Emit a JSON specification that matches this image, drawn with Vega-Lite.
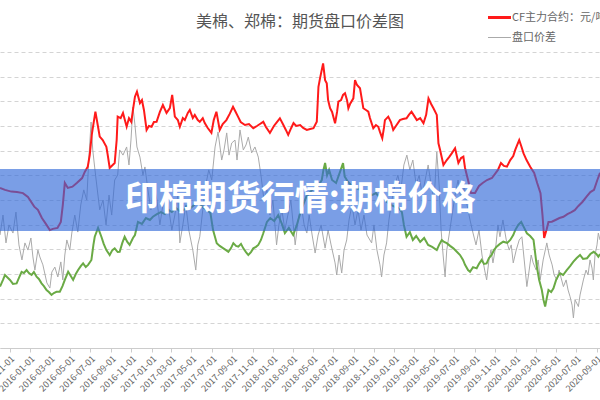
{
  "$schema": "https://vega.github.io/schema/vega-lite/v6.json",
  "width": 600,
  "height": 296,
  "autosize": {"type": "none"},
  "padding": {"top": 52, "bottom": 52, "left": 0, "right": 0},
  "background": "#ffffff",
  "config": {"view": {"stroke": null}, "font": "Noto Sans CJK SC"},
  "title": {"text": "美棉、郑棉：期货盘口价差图", "fontSize": 16, "fontWeight": "normal", "color": "#555555", "anchor": "middle", "frame": "group", "offset": -18, "font": "Noto Sans CJK SC"},
  "datasets": {
    "cf": [
      {"date":"2015-10-03","value":12490},{"date":"2015-10-18","value":12410},{"date":"2015-11-06","value":12340},{"date":"2015-11-23","value":12320},{"date":"2015-12-11","value":12280},{"date":"2015-12-26","value":12120},
      {"date":"2016-01-14","value":11730},{"date":"2016-01-25","value":11600},{"date":"2016-02-06","value":11270},{"date":"2016-02-18","value":11030},{"date":"2016-03-01","value":10780},{"date":"2016-03-10","value":10830},{"date":"2016-03-24","value":10870},{"date":"2016-04-03","value":11110},{"date":"2016-04-09","value":11800},{"date":"2016-04-15","value":12690},{"date":"2016-04-24","value":12490},{"date":"2016-05-08","value":12540},{"date":"2016-05-21","value":12690},{"date":"2016-06-06","value":12890},{"date":"2016-06-14","value":13140},{"date":"2016-06-23","value":13350},{"date":"2016-06-29","value":13830},{"date":"2016-07-05","value":14640},{"date":"2016-07-16","value":15580},{"date":"2016-07-23","value":15040},{"date":"2016-07-29","value":14570},{"date":"2016-08-07","value":14430},{"date":"2016-08-18","value":14160},{"date":"2016-08-22","value":13830},{"date":"2016-08-28","value":13300},{"date":"2016-09-03","value":13380},{"date":"2016-09-12","value":13500},{"date":"2016-09-18","value":14430},{"date":"2016-09-21","value":15380},{"date":"2016-09-30","value":15320},{"date":"2016-10-07","value":15530},{"date":"2016-10-18","value":14970},{"date":"2016-10-25","value":15320},{"date":"2016-11-01","value":15170},{"date":"2016-11-06","value":15650},{"date":"2016-11-12","value":16190},{"date":"2016-11-18","value":16390},{"date":"2016-11-27","value":15930},{"date":"2016-12-03","value":16050},{"date":"2016-12-09","value":15650},{"date":"2016-12-17","value":14840},{"date":"2016-12-24","value":15000},
      {"date":"2017-01-01","value":14970},{"date":"2017-01-08","value":15160},{"date":"2017-01-16","value":15170},{"date":"2017-01-26","value":15570},{"date":"2017-02-04","value":15850},{"date":"2017-02-15","value":15530},{"date":"2017-02-25","value":15730},{"date":"2017-03-04","value":16260},{"date":"2017-03-12","value":15380},{"date":"2017-03-21","value":15240},{"date":"2017-03-27","value":14970},{"date":"2017-04-05","value":15320},{"date":"2017-04-11","value":15240},{"date":"2017-04-20","value":15530},{"date":"2017-04-26","value":15650},{"date":"2017-05-05","value":15320},{"date":"2017-05-11","value":15450},{"date":"2017-05-20","value":15240},{"date":"2017-05-26","value":15170},{"date":"2017-06-04","value":15320},{"date":"2017-06-10","value":15120},{"date":"2017-06-19","value":14920},{"date":"2017-06-30","value":14720},{"date":"2017-07-07","value":15240},{"date":"2017-07-15","value":15580},{"date":"2017-07-25","value":14840},{"date":"2017-08-03","value":15080},{"date":"2017-08-14","value":15240},{"date":"2017-08-24","value":15490},{"date":"2017-09-03","value":15780},{"date":"2017-09-11","value":15570},{"date":"2017-09-18","value":15380},{"date":"2017-09-26","value":15160},{"date":"2017-10-09","value":15040},{"date":"2017-10-21","value":15080},{"date":"2017-11-03","value":14910},{"date":"2017-11-14","value":15000},{"date":"2017-11-23","value":15080},{"date":"2017-12-03","value":15170},{"date":"2017-12-11","value":14960},{"date":"2017-12-23","value":14720},
      {"date":"2018-01-04","value":15000},{"date":"2018-01-13","value":15160},{"date":"2018-01-22","value":15310},{"date":"2018-01-31","value":15080},{"date":"2018-02-09","value":14840},{"date":"2018-02-16","value":14640},{"date":"2018-02-25","value":14920},{"date":"2018-03-04","value":15120},{"date":"2018-03-12","value":15000},{"date":"2018-03-24","value":15040},{"date":"2018-04-02","value":14920},{"date":"2018-04-13","value":14840},{"date":"2018-04-23","value":14880},{"date":"2018-05-03","value":14910},{"date":"2018-05-13","value":15170},{"date":"2018-05-18","value":16590},{"date":"2018-05-23","value":16950},{"date":"2018-06-01","value":17540},{"date":"2018-06-07","value":16860},{"date":"2018-06-12","value":16730},{"date":"2018-06-16","value":16050},{"date":"2018-06-22","value":15720},{"date":"2018-06-28","value":15570},{"date":"2018-07-07","value":15110},{"date":"2018-07-13","value":15570},{"date":"2018-07-17","value":15990},{"date":"2018-07-25","value":16050},{"date":"2018-07-31","value":16260},{"date":"2018-08-06","value":16330},{"date":"2018-08-12","value":16050},{"date":"2018-08-16","value":15720},{"date":"2018-08-21","value":15890},{"date":"2018-08-31","value":16120},{"date":"2018-09-05","value":16860},{"date":"2018-09-11","value":16660},{"date":"2018-09-20","value":16530},{"date":"2018-09-26","value":16050},{"date":"2018-09-30","value":15720},{"date":"2018-10-08","value":15650},{"date":"2018-10-15","value":15580},{"date":"2018-10-20","value":15320},{"date":"2018-10-30","value":14910},{"date":"2018-11-07","value":15040},{"date":"2018-11-14","value":14970},{"date":"2018-11-19","value":14760},{"date":"2018-11-26","value":14500},{"date":"2018-12-01","value":14920},{"date":"2018-12-04","value":15240},{"date":"2018-12-14","value":15380},{"date":"2018-12-22","value":15160},{"date":"2018-12-29","value":14840},
      {"date":"2019-01-06","value":15000},{"date":"2019-01-18","value":15240},{"date":"2019-01-27","value":15280},{"date":"2019-02-07","value":15310},{"date":"2019-02-14","value":15450},{"date":"2019-02-22","value":15580},{"date":"2019-03-02","value":15410},{"date":"2019-03-10","value":15240},{"date":"2019-03-20","value":15320},{"date":"2019-03-30","value":15110},{"date":"2019-04-07","value":15450},{"date":"2019-04-14","value":16120},{"date":"2019-04-22","value":15890},{"date":"2019-04-29","value":15720},{"date":"2019-05-09","value":15450},{"date":"2019-05-14","value":14300},{"date":"2019-05-19","value":14030},{"date":"2019-05-29","value":13420},{"date":"2019-06-08","value":13620},{"date":"2019-06-15","value":13740},{"date":"2019-06-23","value":13890},{"date":"2019-07-03","value":14100},{"date":"2019-07-13","value":13500},{"date":"2019-07-21","value":13700},{"date":"2019-07-28","value":13760},{"date":"2019-08-02","value":13300},{"date":"2019-08-11","value":12810},{"date":"2019-08-20","value":12280},{"date":"2019-09-01","value":12280},{"date":"2019-09-13","value":12570},{"date":"2019-09-24","value":12690},{"date":"2019-10-07","value":12810},{"date":"2019-10-22","value":12890},{"date":"2019-11-09","value":13220},{"date":"2019-11-18","value":13500},{"date":"2019-11-27","value":13380},{"date":"2019-12-06","value":13350},{"date":"2019-12-16","value":13620},{"date":"2019-12-25","value":13780},{"date":"2019-12-31","value":14030},
      {"date":"2020-01-06","value":14230},{"date":"2020-01-12","value":14430},{"date":"2020-01-18","value":14190},{"date":"2020-01-25","value":13890},{"date":"2020-02-03","value":13620},{"date":"2020-02-14","value":13350},{"date":"2020-02-26","value":13100},{"date":"2020-03-06","value":12690},{"date":"2020-03-16","value":12280},{"date":"2020-03-22","value":11390},{"date":"2020-03-27","value":10460},{"date":"2020-04-03","value":10780},{"date":"2020-04-09","value":11110},{"date":"2020-04-19","value":11120},{"date":"2020-04-30","value":11190},{"date":"2020-05-12","value":11270},{"date":"2020-05-24","value":11320},{"date":"2020-06-05","value":11430},{"date":"2020-06-17","value":11510},{"date":"2020-06-27","value":11590},{"date":"2020-07-08","value":11760},{"date":"2020-07-20","value":11920},{"date":"2020-08-01","value":12130},{"date":"2020-08-13","value":12320},{"date":"2020-08-24","value":12410},{"date":"2020-09-03","value":12810},{"date":"2020-09-11","value":13100}
    ],
    "spread": [
      {"date":"2015-10-03","value":10580},{"date":"2015-10-12","value":11390},{"date":"2015-10-21","value":10260},{"date":"2015-10-30","value":10990},{"date":"2015-11-11","value":10660},{"date":"2015-11-20","value":11510},{"date":"2015-11-29","value":10180},{"date":"2015-12-08","value":9570},{"date":"2015-12-17","value":10260},{"date":"2015-12-26","value":9970},
      {"date":"2016-01-04","value":10460},{"date":"2016-01-10","value":9690},{"date":"2016-01-16","value":9160},{"date":"2016-01-25","value":9970},{"date":"2016-01-31","value":9690},{"date":"2016-02-09","value":9370},{"date":"2016-02-21","value":8640},{"date":"2016-03-01","value":8430},{"date":"2016-03-07","value":9080},{"date":"2016-03-16","value":9280},{"date":"2016-03-25","value":8880},{"date":"2016-04-03","value":9490},{"date":"2016-04-09","value":8760},{"date":"2016-04-15","value":9770},{"date":"2016-04-21","value":10380},{"date":"2016-04-30","value":9970},{"date":"2016-05-06","value":10660},{"date":"2016-05-15","value":11390},{"date":"2016-05-24","value":10700},{"date":"2016-06-02","value":11800},{"date":"2016-06-11","value":12410},{"date":"2016-06-20","value":12000},{"date":"2016-06-26","value":13620},{"date":"2016-07-03","value":15160},{"date":"2016-07-08","value":14030},{"date":"2016-07-14","value":13300},{"date":"2016-07-20","value":12610},{"date":"2016-07-29","value":11600},{"date":"2016-08-08","value":12000},{"date":"2016-08-17","value":10990},{"date":"2016-08-26","value":12200},{"date":"2016-09-03","value":11390},{"date":"2016-09-12","value":12810},{"date":"2016-09-21","value":13010},{"date":"2016-09-27","value":14030},{"date":"2016-10-07","value":13820},{"date":"2016-10-18","value":14150},{"date":"2016-10-25","value":13420},{"date":"2016-10-31","value":14430},{"date":"2016-11-06","value":15770},{"date":"2016-11-12","value":15040},{"date":"2016-11-18","value":14150},{"date":"2016-11-27","value":13740},{"date":"2016-12-06","value":13010},{"date":"2016-12-12","value":13340},{"date":"2016-12-21","value":12410},{"date":"2016-12-30","value":11600},
      {"date":"2017-01-08","value":12610},{"date":"2017-01-17","value":12000},{"date":"2017-01-26","value":10990},{"date":"2017-02-04","value":11800},{"date":"2017-02-13","value":12410},{"date":"2017-02-22","value":11600},{"date":"2017-03-03","value":10780},{"date":"2017-03-12","value":11390},{"date":"2017-03-21","value":12200},{"date":"2017-03-27","value":10260},{"date":"2017-04-05","value":10990},{"date":"2017-04-14","value":11800},{"date":"2017-04-23","value":10780},{"date":"2017-05-05","value":9970},{"date":"2017-05-14","value":9160},{"date":"2017-05-20","value":10180},{"date":"2017-05-26","value":10510},{"date":"2017-06-04","value":11600},{"date":"2017-06-13","value":12610},{"date":"2017-06-22","value":13220},{"date":"2017-07-01","value":12810},{"date":"2017-07-11","value":14150},{"date":"2017-07-20","value":14760},{"date":"2017-07-31","value":13620},{"date":"2017-08-07","value":14030},{"date":"2017-08-15","value":14720},{"date":"2017-08-22","value":13820},{"date":"2017-08-30","value":14310},{"date":"2017-09-09","value":14430},{"date":"2017-09-15","value":13620},{"date":"2017-09-24","value":14840},{"date":"2017-10-04","value":14030},{"date":"2017-10-12","value":14230},{"date":"2017-10-19","value":14550},{"date":"2017-10-29","value":13910},{"date":"2017-11-08","value":14150},{"date":"2017-11-18","value":13740},{"date":"2017-11-26","value":13010},{"date":"2017-12-05","value":12000},{"date":"2017-12-14","value":12410},{"date":"2017-12-23","value":11390},
      {"date":"2018-01-01","value":12000},{"date":"2018-01-12","value":10180},{"date":"2018-01-19","value":10990},{"date":"2018-01-28","value":11600},{"date":"2018-02-06","value":10780},{"date":"2018-02-15","value":11390},{"date":"2018-02-24","value":12000},{"date":"2018-03-09","value":10180},{"date":"2018-03-18","value":11190},{"date":"2018-03-27","value":11800},{"date":"2018-04-05","value":10990},{"date":"2018-04-13","value":10660},{"date":"2018-04-20","value":11390},{"date":"2018-04-29","value":10580},{"date":"2018-05-08","value":9850},{"date":"2018-05-17","value":10580},{"date":"2018-05-26","value":10990},{"date":"2018-06-07","value":10050},{"date":"2018-06-16","value":10780},{"date":"2018-06-25","value":10180},{"date":"2018-07-07","value":9450},{"date":"2018-07-12","value":8960},{"date":"2018-07-19","value":9770},{"date":"2018-07-27","value":9040},{"date":"2018-08-03","value":9970},{"date":"2018-08-11","value":10380},{"date":"2018-08-18","value":11190},{"date":"2018-08-27","value":11800},{"date":"2018-09-05","value":10990},{"date":"2018-09-14","value":11600},{"date":"2018-09-23","value":10780},{"date":"2018-10-02","value":11390},{"date":"2018-10-11","value":10580},{"date":"2018-10-25","value":10260},{"date":"2018-11-01","value":10990},{"date":"2018-11-10","value":9970},{"date":"2018-11-19","value":9370},{"date":"2018-11-24","value":8880},{"date":"2018-12-01","value":9770},{"date":"2018-12-09","value":10260},{"date":"2018-12-16","value":11190},{"date":"2018-12-25","value":12000},
      {"date":"2019-01-03","value":12610},{"date":"2019-01-12","value":13010},{"date":"2019-01-21","value":12410},{"date":"2019-01-30","value":13420},{"date":"2019-02-08","value":13820},{"date":"2019-02-17","value":13220},{"date":"2019-02-26","value":13620},{"date":"2019-03-08","value":12610},{"date":"2019-03-17","value":13010},{"date":"2019-03-26","value":12200},{"date":"2019-04-04","value":12810},{"date":"2019-04-13","value":13420},{"date":"2019-04-22","value":12610},{"date":"2019-05-01","value":12000},{"date":"2019-05-09","value":13950},{"date":"2019-05-16","value":12610},{"date":"2019-05-22","value":10780},{"date":"2019-05-28","value":9770},{"date":"2019-06-03","value":8880},{"date":"2019-06-08","value":9970},{"date":"2019-06-15","value":10580},{"date":"2019-06-24","value":11390},{"date":"2019-07-03","value":12200},{"date":"2019-07-12","value":12810},{"date":"2019-07-21","value":12000},{"date":"2019-07-30","value":12610},{"date":"2019-08-08","value":11800},{"date":"2019-08-17","value":11190},{"date":"2019-08-26","value":10660},{"date":"2019-09-04","value":10180},{"date":"2019-09-13","value":10780},{"date":"2019-09-22","value":9770},{"date":"2019-09-30","value":9160},{"date":"2019-10-06","value":8760},{"date":"2019-10-13","value":9570},{"date":"2019-10-19","value":9970},{"date":"2019-10-25","value":9450},{"date":"2019-11-03","value":10180},{"date":"2019-11-09","value":10990},{"date":"2019-11-15","value":10510},{"date":"2019-11-24","value":11190},{"date":"2019-12-04","value":10380},{"date":"2019-12-13","value":9970},{"date":"2019-12-19","value":10180},{"date":"2019-12-25","value":9450},
      {"date":"2020-01-03","value":9970},{"date":"2020-01-12","value":10380},{"date":"2020-01-20","value":10510},{"date":"2020-01-27","value":9570},{"date":"2020-02-04","value":8490},{"date":"2020-02-11","value":9160},{"date":"2020-02-17","value":9770},{"date":"2020-02-23","value":9450},{"date":"2020-03-03","value":9160},{"date":"2020-03-09","value":9570},{"date":"2020-03-15","value":8760},{"date":"2020-03-24","value":9570},{"date":"2020-04-04","value":10260},{"date":"2020-04-11","value":9770},{"date":"2020-04-20","value":9370},{"date":"2020-04-26","value":8960},{"date":"2020-05-04","value":8760},{"date":"2020-05-11","value":9160},{"date":"2020-05-17","value":8840},{"date":"2020-05-24","value":8490},{"date":"2020-06-01","value":8760},{"date":"2020-06-07","value":8350},{"date":"2020-06-13","value":8080},{"date":"2020-06-19","value":7740},{"date":"2020-06-23","value":7220},{"date":"2020-06-28","value":7950},{"date":"2020-07-08","value":7680},{"date":"2020-07-13","value":8150},{"date":"2020-07-23","value":8760},{"date":"2020-07-31","value":9160},{"date":"2020-08-06","value":8960},{"date":"2020-08-12","value":9570},{"date":"2020-08-18","value":9240},{"date":"2020-08-22","value":8760},{"date":"2020-08-27","value":9770},{"date":"2020-09-02","value":10180},{"date":"2020-09-06","value":10660},{"date":"2020-09-11","value":10380}
    ],
    "us": [
      {"date":"2015-10-03","value":8490},{"date":"2015-10-12","value":8760},{"date":"2015-10-18","value":8960},{"date":"2015-10-27","value":8840},{"date":"2015-11-02","value":8760},{"date":"2015-11-11","value":8600},{"date":"2015-11-22","value":8620},{"date":"2015-11-29","value":8840},{"date":"2015-12-07","value":9090},{"date":"2015-12-14","value":9040},{"date":"2015-12-22","value":9160},{"date":"2015-12-29","value":9040},
      {"date":"2016-01-06","value":8960},{"date":"2016-01-13","value":9080},{"date":"2016-01-21","value":8890},{"date":"2016-01-28","value":8800},{"date":"2016-02-05","value":8620},{"date":"2016-02-12","value":8510},{"date":"2016-02-20","value":8350},{"date":"2016-02-27","value":8270},{"date":"2016-03-06","value":8150},{"date":"2016-03-13","value":8230},{"date":"2016-03-21","value":8280},{"date":"2016-03-31","value":8280},{"date":"2016-04-08","value":8510},{"date":"2016-04-15","value":8760},{"date":"2016-04-25","value":9090},{"date":"2016-05-03","value":8920},{"date":"2016-05-10","value":8760},{"date":"2016-05-18","value":9000},{"date":"2016-05-25","value":9160},{"date":"2016-06-02","value":9320},{"date":"2016-06-09","value":9430},{"date":"2016-06-17","value":9280},{"date":"2016-06-24","value":9370},{"date":"2016-07-04","value":9570},{"date":"2016-07-10","value":10180},{"date":"2016-07-14","value":10510},{"date":"2016-07-24","value":10870},{"date":"2016-08-03","value":10510},{"date":"2016-08-10","value":10220},{"date":"2016-08-18","value":9970},{"date":"2016-08-28","value":9770},{"date":"2016-09-05","value":9970},{"date":"2016-09-12","value":10040},{"date":"2016-09-21","value":9890},{"date":"2016-09-27","value":9900},{"date":"2016-10-05","value":10260},{"date":"2016-10-12","value":10510},{"date":"2016-10-20","value":10300},{"date":"2016-10-27","value":10180},{"date":"2016-11-06","value":10460},{"date":"2016-11-12","value":10580},{"date":"2016-11-21","value":11110},{"date":"2016-12-03","value":11030},{"date":"2016-12-15","value":11270},{"date":"2016-12-27","value":11190},
      {"date":"2017-01-05","value":11320},{"date":"2017-01-17","value":11430},{"date":"2017-01-29","value":11510},{"date":"2017-02-10","value":11430},{"date":"2017-02-20","value":11600},{"date":"2017-03-03","value":11510},{"date":"2017-03-15","value":11680},{"date":"2017-03-27","value":11550},{"date":"2017-04-08","value":11600},{"date":"2017-04-17","value":11760},{"date":"2017-04-29","value":11680},{"date":"2017-05-12","value":11840},{"date":"2017-05-24","value":11880},{"date":"2017-06-04","value":11720},{"date":"2017-06-16","value":11600},{"date":"2017-06-27","value":11470},{"date":"2017-07-05","value":10780},{"date":"2017-07-16","value":10250},{"date":"2017-07-25","value":10140},{"date":"2017-08-05","value":10040},{"date":"2017-08-13","value":9970},{"date":"2017-08-20","value":9900},{"date":"2017-08-28","value":10050},{"date":"2017-09-04","value":10250},{"date":"2017-09-12","value":10140},{"date":"2017-09-19","value":10110},{"date":"2017-09-27","value":10220},{"date":"2017-10-04","value":10040},{"date":"2017-10-12","value":9890},{"date":"2017-10-19","value":9770},{"date":"2017-10-27","value":9890},{"date":"2017-11-03","value":10040},{"date":"2017-11-11","value":10100},{"date":"2017-11-18","value":10180},{"date":"2017-11-26","value":10380},{"date":"2017-12-03","value":10650},{"date":"2017-12-14","value":11110},{"date":"2017-12-24","value":11270},
      {"date":"2018-01-05","value":11150},{"date":"2018-01-17","value":11390},{"date":"2018-01-28","value":11030},{"date":"2018-02-06","value":10660},{"date":"2018-02-18","value":10870},{"date":"2018-03-03","value":10580},{"date":"2018-03-14","value":10990},{"date":"2018-03-27","value":11600},{"date":"2018-04-11","value":12120},{"date":"2018-04-23","value":12320},{"date":"2018-05-05","value":12490},{"date":"2018-05-17","value":12570},{"date":"2018-05-28","value":12810},{"date":"2018-06-02","value":13220},{"date":"2018-06-07","value":13500},{"date":"2018-06-13","value":13010},{"date":"2018-06-19","value":13220},{"date":"2018-06-28","value":12810},{"date":"2018-07-10","value":12690},{"date":"2018-07-24","value":13220},{"date":"2018-07-31","value":13500},{"date":"2018-08-05","value":12950},{"date":"2018-08-15","value":12730},{"date":"2018-08-27","value":12570},{"date":"2018-09-08","value":12490},{"date":"2018-09-20","value":12410},{"date":"2018-10-02","value":12280},{"date":"2018-10-14","value":12320},{"date":"2018-10-26","value":12200},{"date":"2018-11-07","value":12280},{"date":"2018-11-19","value":12080},{"date":"2018-11-28","value":12130},{"date":"2018-12-10","value":11920},{"date":"2018-12-22","value":11800},
      {"date":"2019-01-03","value":11720},{"date":"2019-01-15","value":11680},{"date":"2019-01-24","value":11510},{"date":"2019-01-30","value":10990},{"date":"2019-02-07","value":10510},{"date":"2019-02-17","value":10700},{"date":"2019-02-26","value":10380},{"date":"2019-03-08","value":10540},{"date":"2019-03-20","value":10300},{"date":"2019-04-01","value":10460},{"date":"2019-04-13","value":10180},{"date":"2019-04-25","value":10100},{"date":"2019-05-09","value":9970},{"date":"2019-05-16","value":10180},{"date":"2019-05-24","value":10380},{"date":"2019-05-31","value":10300},{"date":"2019-06-08","value":10250},{"date":"2019-06-18","value":10140},{"date":"2019-06-28","value":10040},{"date":"2019-07-09","value":9890},{"date":"2019-07-18","value":9770},{"date":"2019-07-27","value":9570},{"date":"2019-08-02","value":9370},{"date":"2019-08-11","value":9160},{"date":"2019-08-17","value":9090},{"date":"2019-08-26","value":9280},{"date":"2019-09-06","value":9230},{"date":"2019-09-13","value":9410},{"date":"2019-09-21","value":9570},{"date":"2019-09-28","value":9410},{"date":"2019-10-06","value":9430},{"date":"2019-10-13","value":9650},{"date":"2019-10-21","value":9770},{"date":"2019-10-28","value":9970},{"date":"2019-11-05","value":10110},{"date":"2019-11-15","value":10220},{"date":"2019-11-25","value":10310},{"date":"2019-12-07","value":10260},{"date":"2019-12-16","value":10380},{"date":"2019-12-25","value":10580},{"date":"2019-12-31","value":10780},
      {"date":"2020-01-09","value":10990},{"date":"2020-01-18","value":11110},{"date":"2020-01-27","value":10870},{"date":"2020-02-04","value":10650},{"date":"2020-02-14","value":10540},{"date":"2020-02-24","value":10380},{"date":"2020-03-05","value":9300},{"date":"2020-03-12","value":8760},{"date":"2020-03-20","value":8350},{"date":"2020-03-25","value":7950},{"date":"2020-03-30","value":7680},{"date":"2020-04-04","value":8030},{"date":"2020-04-09","value":8350},{"date":"2020-04-17","value":8270},{"date":"2020-04-24","value":8420},{"date":"2020-05-02","value":8760},{"date":"2020-05-08","value":8920},{"date":"2020-05-14","value":9030},{"date":"2020-05-23","value":8960},{"date":"2020-06-03","value":9160},{"date":"2020-06-13","value":9320},{"date":"2020-06-23","value":9500},{"date":"2020-07-03","value":9650},{"date":"2020-07-13","value":9770},{"date":"2020-07-22","value":9610},{"date":"2020-08-03","value":9640},{"date":"2020-08-13","value":9810},{"date":"2020-08-23","value":9900},{"date":"2020-08-31","value":9810},{"date":"2020-09-06","value":9700},{"date":"2020-09-11","value":9810}
    ],
    "banner": [
      {"start":"2015-10-03","end":"2020-09-11","low":10740,"high":13260,"mid":"2018-03-24","center":12000,"label":"印棉期货行情:期棉价格"}
    ]
  },
  "encoding": {
    "x": {
      "field": "date",
      "type": "temporal",
      "scale": {"type": "utc", "domain": [{"year": 2015, "month": 10, "date": 3, "utc": true}, {"year": 2020, "month": 9, "date": 11, "utc": true}]},
      "axis": {
        "title": null,
        "format": "%Y-%m-%d",
        "tickCount": {"interval": "month", "step": 2},
        "labelAngle": -45,
        "labelOverlap": false,
        "labelFlush": false,
        "labelBound": false,
        "labelFontSize": 9,
        "labelColor": "#666666",
        "labelPadding": 2,
        "domainColor": "#cccccc",
        "tickColor": "#cccccc",
        "tickSize": 4,
        "grid": false
      }
    },
    "y": {
      "field": "value",
      "type": "quantitative",
      "scale": {"domain": [6000, 18000], "nice": false, "zero": false},
      "axis": {
        "title": null,
        "labels": false,
        "ticks": false,
        "domain": false,
        "grid": true,
        "values": [6000, 7000, 8000, 9000, 10000, 11000, 12000, 13000, 14000, 15000, 16000, 17000, 18000],
        "gridDash": [4, 3],
        "gridColor": "#d4d4d4",
        "gridWidth": 1
      }
    }
  },
  "layer": [
    {
      "data": {"name": "spread"},
      "mark": {"type": "line", "strokeWidth": 1, "clip": true},
      "encoding": {
        "color": {
          "datum": "盘口价差",
          "scale": {"domain": ["CF主力合约：元/吨", "盘口价差"], "range": ["#ff1a1a", "#aaaaaa"]},
          "legend": {
            "orient": "none",
            "legendX": 494,
            "legendY": -40,
            "title": null,
            "symbolType": "stroke",
            "symbolSize": 529,
            "rowPadding": 7,
            "labelOffset": 7,
            "labelFontSize": 11,
            "labelColor": "#666666",
            "labelFont": "Noto Sans CJK SC",
            "labelLimit": 200,
            "encode": {"symbols": {"update": {"strokeWidth": {"signal": "datum.value === '盘口价差' ? 1 : 3"}}}}
          }
        }
      }
    },
    {
      "data": {"name": "us"},
      "mark": {"type": "line", "strokeWidth": 2, "color": "#6aaa45", "clip": true},
      "encoding": {}
    },
    {
      "data": {"name": "cf"},
      "mark": {"type": "line", "strokeWidth": 2, "clip": true},
      "encoding": {
        "color": {"datum": "CF主力合约：元/吨"}
      }
    },
    {
      "data": {"name": "banner"},
      "mark": {"type": "rect", "color": "#336ad9", "opacity": 0.65},
      "encoding": {
        "x": {"field": "start", "type": "temporal"},
        "x2": {"field": "end"},
        "y": {"field": "low", "type": "quantitative"},
        "y2": {"field": "high"}
      }
    },
    {
      "data": {"name": "banner"},
      "mark": {"type": "text", "color": "#ffffff", "fontSize": 34, "fontWeight": "bold", "font": "Noto Sans CJK SC", "align": "center", "baseline": "middle"},
      "encoding": {
        "x": {"field": "mid", "type": "temporal"},
        "y": {"field": "center", "type": "quantitative"},
        "text": {"field": "label"}
      }
    }
  ]
}
